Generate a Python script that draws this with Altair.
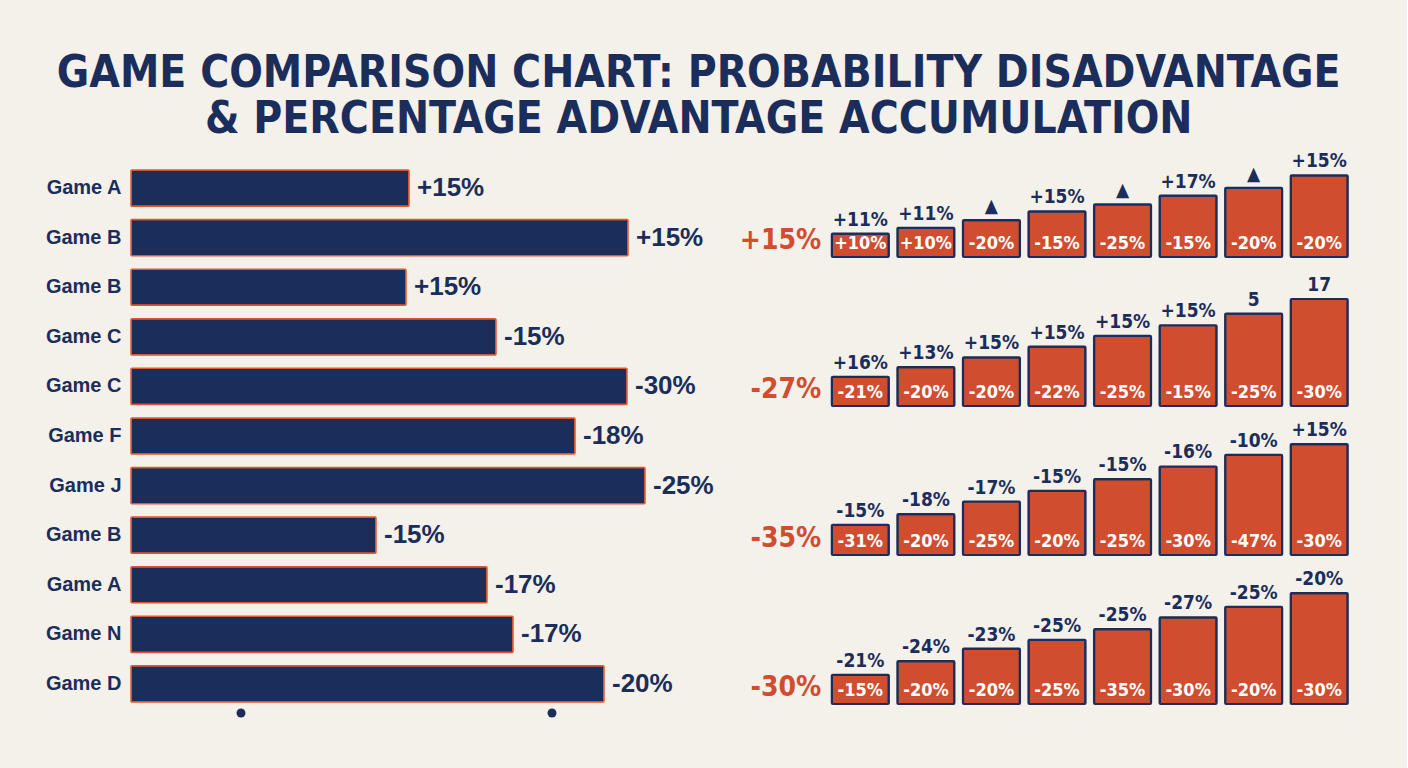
import altair as alt
import pandas as pd

# ---- palette & fonts ----
NAVY = "#1b2d5b"
ORANGE = "#d14d30"
BG = "#f4f1ea"
NARROW = "DejaVu Sans Condensed, sans-serif"
REGULAR = "Liberation Sans, Arial, sans-serif"

# ---- left panel: per-game bars ----
games = ["Game A", "Game B", "Game B", "Game C", "Game C", "Game F",
         "Game J", "Game B", "Game A", "Game N", "Game D"]
bar_score = [27.8, 49.7, 27.5, 36.5, 49.6, 44.4, 51.4, 24.5, 35.6, 38.2, 47.3]
bar_labels = ["+15%", "+15%", "+15%", "-15%", "-30%", "-18%",
              "-25%", "-15%", "-17%", "-17%", "-20%"]
marker_positions = [11.0, 42.1]

# ---- right panel: accumulation groups ----
group_totals = ["+15%", "-27%", "-35%", "-30%"]
accumulation = [
    [24, 30, 38, 47, 54, 63, 71, 84],
    [30, 40, 50, 61, 72, 83, 95, 110],
    [31, 42, 55, 66, 78, 91, 103, 114],
    [30, 44, 57, 66, 77, 89, 100, 114],
]
top_labels = [
    ["+11%", "+11%", "▲", "+15%", "▲", "+17%", "▲", "+15%"],
    ["+16%", "+13%", "+15%", "+15%", "+15%", "+15%", "5", "17"],
    ["-15%", "-18%", "-17%", "-15%", "-15%", "-16%", "-10%", "+15%"],
    ["-21%", "-24%", "-23%", "-25%", "-25%", "-27%", "-25%", "-20%"],
]
inner_labels = [
    ["+10%", "+10%", "-20%", "-15%", "-25%", "-15%", "-20%", "-20%"],
    ["-21%", "-20%", "-20%", "-22%", "-25%", "-15%", "-25%", "-30%"],
    ["-31%", "-20%", "-25%", "-20%", "-25%", "-30%", "-47%", "-30%"],
    ["-15%", "-20%", "-20%", "-25%", "-35%", "-30%", "-20%", "-30%"],
]

# ---------------- left chart ----------------
left_df = pd.DataFrame({
    "row": list(range(len(games))),
    "game": games,
    "score": bar_score,
    "label": bar_labels,
})
name_expr = "[" + ",".join(f"'{g}'" for g in games) + "][datum.value]"

y_rows = alt.Y(
    "row:O",
    scale=alt.Scale(paddingInner=0.27, paddingOuter=0.403),
    axis=alt.Axis(
        title=None, domain=False, ticks=False, labelPadding=10,
        labelExpr=name_expr, labelFont=REGULAR, labelFontSize=20,
        labelFontWeight="bold", labelColor=NAVY,
    ),
)
x_score = alt.X("score:Q", scale=alt.Scale(domain=[0, 60]), axis=None)

left_base = alt.Chart(left_df)
left_bars = left_base.mark_bar(
    color=NAVY, stroke="#e0582f", strokeWidth=1.5, cornerRadius=1
).encode(x=x_score, y=y_rows)
left_text = left_base.mark_text(
    align="left", baseline="middle", dx=8, font=REGULAR, fontSize=26,
    fontWeight="bold", color=NAVY,
).encode(x=x_score, y=alt.Y("row:O"), text="label:N")

markers = alt.Chart(pd.DataFrame({"score": marker_positions})).mark_circle(
    size=80, color=NAVY, opacity=1
).encode(x=x_score, y=alt.value(563))

left = alt.layer(left_bars, left_text, markers).properties(width=600, height=572)

# ---------------- right chart ----------------
positions = ["lead"] + [str(i) for i in range(1, 9)]
x_pos = alt.X(
    "pos:N",
    scale=alt.Scale(domain=positions, paddingInner=0.131, paddingOuter=0.0655),
    axis=None,
)
y_acc = alt.Y("acc:Q", scale=alt.Scale(domain=[0, 107]), axis=None)

groups = []
for g in range(4):
    df = pd.DataFrame({
        "pos": [str(i) for i in range(1, 9)],
        "acc": accumulation[g],
        "top": top_labels[g],
        "inner": inner_labels[g],
    })
    base = alt.Chart(df)
    bars = base.mark_bar(
        color=ORANGE, stroke=NAVY, strokeWidth=2.2, cornerRadius=1
    ).encode(x=x_pos, y=y_acc)
    over = base.mark_text(
        baseline="bottom", dy=-4, font=NARROW, fontSize=19,
        fontWeight="bold", color=NAVY,
    ).encode(x=x_pos, y=y_acc, text="top:N")
    inside = base.mark_text(
        baseline="bottom", dy=-4, font=NARROW, fontSize=18,
        fontWeight="bold", color="white",
    ).encode(x=x_pos, y=alt.datum(0), text="inner:N")
    lead = alt.Chart(pd.DataFrame({"pos": ["lead"], "total": [group_totals[g]]})).mark_text(
        align="right", baseline="bottom", dy=-2, dx=-2, font=NARROW, fontSize=28,
        fontWeight="bold", color=ORANGE,
    ).encode(x=alt.X("pos:N", bandPosition=1), y=alt.datum(0), text="total:N")
    groups.append(
        alt.layer(bars, over, inside, lead).properties(width=590, height=107)
    )

right = alt.vconcat(*groups, spacing=42, bounds="flush")

chart = alt.hconcat(left, right, spacing=31, bounds="flush").properties(
    title=alt.TitleParams(
        text=["GAME COMPARISON CHART: PROBABILITY DISADVANTAGE",
              "& PERCENTAGE ADVANTAGE ACCUMULATION"],
        font=NARROW, fontSize=44, fontWeight="bold", color=NAVY,
        lineHeight=46, anchor="middle", offset=8,
    ),
    padding={"left": 45, "top": 52, "right": 55, "bottom": 46},
    background=BG,
).configure_view(stroke=None)

chart.save("out.html", embed_options={"renderer": "svg", "actions": False})
